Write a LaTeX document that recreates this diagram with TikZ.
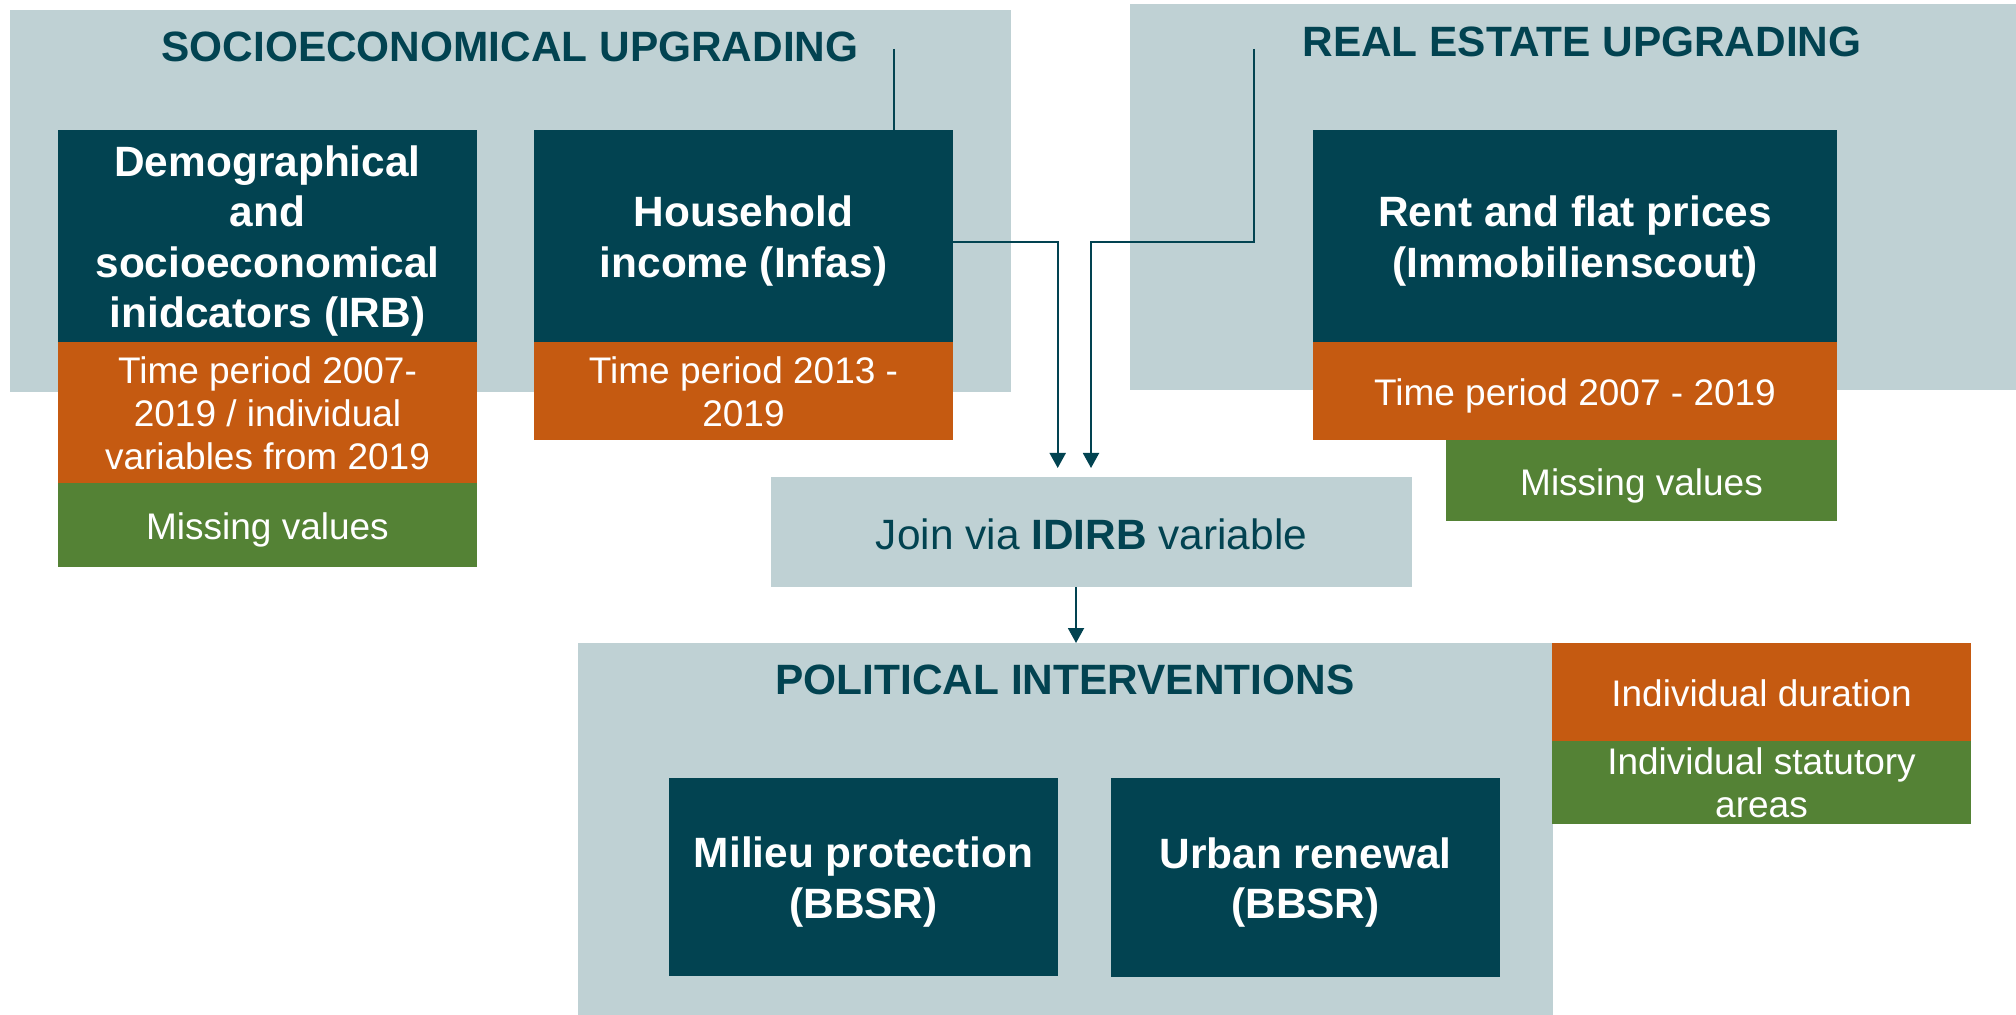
\documentclass[tikz,border=0pt]{standalone}
\usepackage{fontspec}
\setmainfont{Liberation Sans}
\usetikzlibrary{arrows.meta}
\definecolor{dteal}{HTML}{024351}
\definecolor{panel}{HTML}{BFD1D4}
\definecolor{orng}{HTML}{C55A11}
\definecolor{grn}{HTML}{548235}
\tikzset{
  boxbase/.style={rectangle, inner sep=0pt, outer sep=0pt, draw=none},
  panelbox/.style={boxbase, fill=panel},
  darkbox/.style={boxbase, fill=dteal},
  orangebox/.style={boxbase, fill=orng},
  greenbox/.style={boxbase, fill=grn},
  boldtext/.style={inner sep=0pt, align=center, text=white, font=\bfseries\fontsize{21.2}{25.3}\selectfont},
  smalltext/.style={inner sep=0pt, align=center, text=white, font=\fontsize{18.5}{21.5}\selectfont},
  jointext/.style={inner sep=0pt, align=center, text=dteal, font=\fontsize{21.2}{25.3}\selectfont},
  titletext/.style={anchor=base, inner sep=0pt, text=dteal, font=\bfseries\fontsize{21.2}{25.3}\selectfont},
  conn/.style={draw=dteal, line width=1pt},
  arr/.style={conn, -{Triangle[width=8pt,length=7.5pt]}},
}
\begin{document}
\begin{tikzpicture}[x=0.5pt, y=-0.5pt]
\useasboundingbox (0,0) rectangle (2016,1015);
% panels
\node[panelbox, minimum width=500.5pt, minimum height=191pt] (socio) at (510.5,201) {};
\node[panelbox, minimum width=443pt, minimum height=193pt] (real) at (1573,197) {};
\node[panelbox, minimum width=487.5pt, minimum height=186pt] (pol) at (1065.5,829) {};
% titles
\node[titletext] (sociot) at (510,62) {SOCIOECONOMICAL UPGRADING};
\node[titletext] (realt) at (1582,57) {REAL ESTATE UPGRADING};
\node[titletext] (polt) at (1065,694) {POLITICAL INTERVENTIONS};
% socio boxes
\node[darkbox, minimum width=209.5pt, minimum height=106pt] (demo) at (267.5,236) {};
\node[boldtext] (demot) at ([yshift=-2.5pt]demo.center) {Demographical\\and\\socioeconomical\\inidcators (IRB)};
\node[orangebox, minimum width=209.5pt, minimum height=70.5pt] (demoo) at (267.5,412.5) {};
\node[smalltext] (demoot) at ([yshift=-0.5pt]demoo.center) {Time period 2007-\\2019 / individual\\variables from 2019};
\node[greenbox, minimum width=209.5pt, minimum height=42pt] (demog) at (267.5,525) {};
\node[smalltext] (demogt) at ([yshift=-2.5pt]demog.center) {Missing values};
\node[darkbox, minimum width=209.5pt, minimum height=106pt] (hh) at (743.5,236) {};
\node[boldtext] (hht) at ([yshift=-2.5pt]hh.center) {Household\\income (Infas)};
\node[orangebox, minimum width=209.5pt, minimum height=49pt] (hho) at (743.5,391) {};
\node[smalltext] (hhot) at ([yshift=-0.5pt]hho.center) {Time period 2013 -\\2019};
% real estate boxes
\node[darkbox, minimum width=262pt, minimum height=106pt] (rent) at (1575,236) {};
\node[boldtext] (rentt) at ([yshift=-2.5pt]rent.center) {Rent and flat prices\\(Immobilienscout)};
\node[orangebox, minimum width=262pt, minimum height=49pt] (rento) at (1575,391) {};
\node[smalltext] (rentot) at ([yshift=-2.5pt]rento.center) {Time period 2007 - 2019};
\node[greenbox, minimum width=195.5pt, minimum height=40.5pt] (rentg) at (1641.5,480.5) {};
\node[smalltext] (rentgt) at ([yshift=-2.5pt]rentg.center) {Missing values};
% join
\node[panelbox, minimum width=320.5pt, minimum height=55pt] (join) at (1091.5,532) {};
\node[jointext] (joint) at ([yshift=-1.2pt]join.center) {Join via \textbf{IDIRB} variable};
% political
\node[orangebox, minimum width=209.5pt, minimum height=49pt] (dur) at (1761.5,692) {};
\node[smalltext] (durt) at ([yshift=-0.5pt]dur.center) {Individual duration};
\node[greenbox, minimum width=209.5pt, minimum height=41.5pt] (stat) at (1761.5,782.5) {};
\node[smalltext] (statt) at (stat.center) {Individual statutory\\areas};
\node[darkbox, minimum width=194.5pt, minimum height=99pt] (mil) at (863.5,877) {};
\node[boldtext] (milt) at ([yshift=-2.5pt]mil.center) {Milieu protection\\(BBSR)};
\node[darkbox, minimum width=194.5pt, minimum height=99.5pt] (urb) at (1305.5,877.5) {};
\node[boldtext] (urbt) at ([yshift=-2.5pt]urb.center) {Urban renewal\\(BBSR)};
% connectors
\coordinate (s1) at (894,49);
\draw[conn] (s1) -- (s1 |- hh.north);
\coordinate (h1) at ([yshift=-3pt]hh.east);
\coordinate (a1) at (1057.7,468);
\draw[arr] (h1) -| (a1);
\coordinate (s2) at (1254,49);
\coordinate (k2) at (1091,242);
\coordinate (a2) at (1091,468);
\draw[arr] (s2) |- (k2) -- (a2);
\coordinate (j1) at ([xshift=-7.75pt]join.south);
\draw[arr] (j1) -- (j1 |- pol.north);
\end{tikzpicture}
\end{document}
